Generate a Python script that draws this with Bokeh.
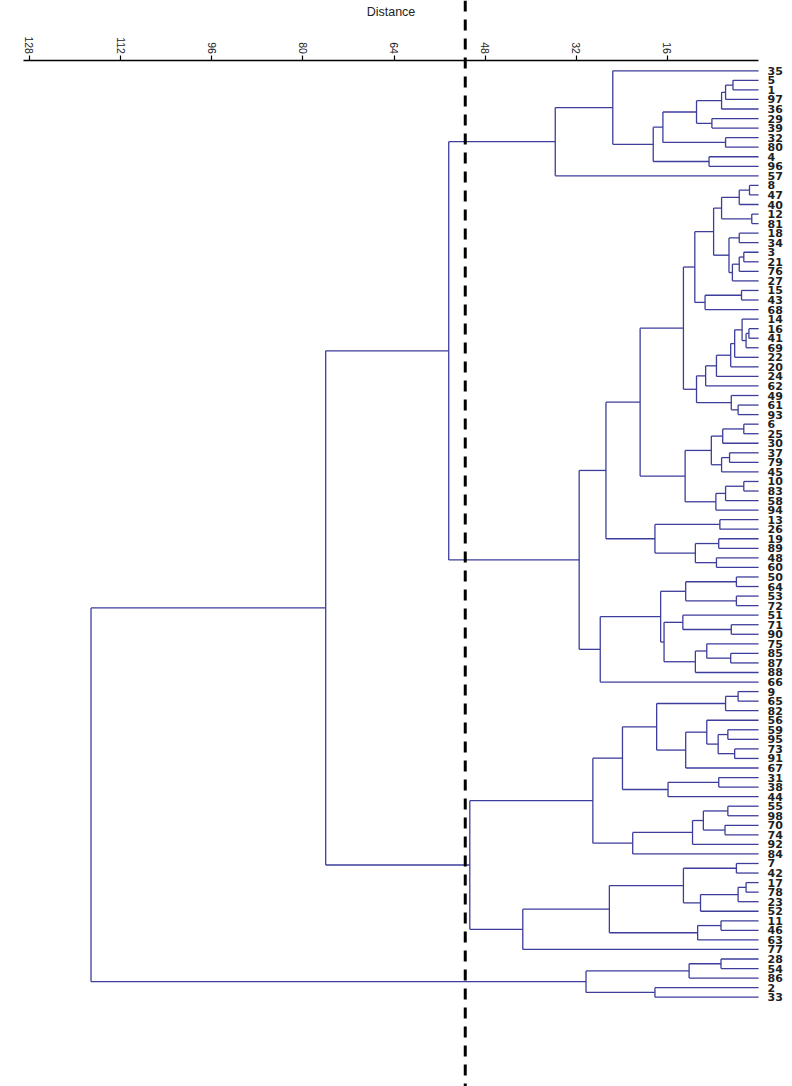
import math
from bokeh.plotting import figure
from bokeh.models import LinearAxis, FixedTicker, Span, Range1d, ColumnDataSource
from bokeh.core.properties import value
from bokeh.embed import file_html
from bokeh.resources import INLINE

# ---------------- data ----------------
leaf_labels = [
    "35", "5", "1", "97", "36", "29", "39", "32", "80", "4", "96", "57",
    "8", "47", "40", "12", "81", "18", "34", "3", "21", "76", "27", "15", "43", "68",
    "14", "16", "41", "69", "22", "20", "24", "62", "49", "61", "93",
    "6", "25", "30", "37", "79", "45", "10", "83", "58", "94",
    "13", "26", "19", "89", "48", "60",
    "50", "64", "53", "72", "51", "71", "90", "75", "85", "87", "88", "66",
    "9", "65", "82", "56", "59", "95", "73", "91", "67", "31", "38", "44",
    "55", "98", "70", "74", "92", "84",
    "7", "42", "17", "78", "23", "52", "11", "46", "63", "77",
    "28", "54", "86", "2", "33",
]

# (cluster name, left child, right child, merge distance)
merges_top = [
    ("a1", "5", "1", 4.5), ("a2", "a1", "97", 5.8), ("a3", "a2", "36", 6.5),
    ("a4", "29", "39", 8.2), ("a5", "a3", "a4", 10.9), ("a6", "32", "80", 5.8),
    ("a7", "a5", "a6", 16.8), ("a8", "4", "96", 8.7), ("a9", "a7", "a8", 18.5),
    ("a10", "35", "a9", 25.6), ("a11", "a10", "57", 35.7),
]
merges_mid = [
    ("b1", "8", "47", 1.6), ("b2", "b1", "40", 3.4), ("b3", "12", "81", 1.2),
    ("b4", "b2", "b3", 6.5), ("b5", "18", "34", 3.4), ("b6", "3", "21", 2.6),
    ("b7", "b6", "76", 3.4), ("b8", "b7", "27", 4.6), ("b9", "b5", "b8", 5.2),
    ("b10", "b4", "b9", 7.9), ("b11", "15", "43", 3.0), ("b12", "b11", "68", 9.4),
    ("b13", "b10", "b12", 11.2), ("b14", "16", "41", 1.7), ("b15", "b14", "69", 2.2),
    ("b16", "14", "b15", 2.9), ("b17", "b16", "22", 4.2), ("b18", "b17", "20", 4.9),
    ("b19", "b18", "24", 7.4), ("b20", "b19", "62", 9.3), ("b21", "61", "93", 3.6),
    ("b22", "49", "b21", 4.8), ("b23", "b20", "b22", 10.9), ("b24", "b13", "b23", 13.2),
    ("b25", "6", "25", 2.6), ("b26", "b25", "30", 6.3), ("b27", "37", "79", 5.1),
    ("b28", "b27", "45", 6.5), ("b29", "b26", "b28", 8.3), ("b30", "10", "83", 2.6),
    ("b31", "b30", "58", 5.8), ("b32", "b31", "94", 7.5), ("b33", "b29", "b32", 12.9),
    ("b34", "b24", "b33", 20.8), ("b35", "13", "26", 6.8), ("b36", "19", "89", 7.0),
    ("b37", "48", "60", 7.4), ("b38", "b36", "b37", 11.1), ("b39", "b35", "b38", 18.2),
    ("b40", "b34", "b39", 26.8), ("b41", "50", "64", 3.9), ("b42", "53", "72", 3.9),
    ("b43", "b41", "b42", 12.8), ("b44", "71", "90", 4.8), ("b45", "51", "b44", 13.3),
    ("b46", "85", "87", 4.9), ("b47", "75", "b46", 9.1), ("b48", "b47", "88", 11.1),
    ("b49", "b45", "b48", 16.6), ("b50", "b43", "b49", 17.2), ("b51", "b50", "66", 27.8),
    ("b52", "b40", "b51", 31.5),
]
merges_low = [
    ("c1", "9", "65", 3.6), ("c2", "c1", "82", 5.8), ("c3", "59", "95", 5.4),
    ("c4", "73", "91", 4.2), ("c5", "c3", "c4", 7.1), ("c6", "56", "c5", 9.1),
    ("c7", "c6", "67", 12.8), ("c8", "c2", "c7", 17.9), ("c9", "31", "38", 7.0),
    ("c10", "c9", "44", 15.9), ("c11", "c8", "c10", 23.9), ("c12", "55", "98", 5.4),
    ("c13", "70", "74", 5.9), ("c14", "c12", "c13", 9.7), ("c15", "c14", "92", 11.6),
    ("c16", "c15", "84", 22.1), ("c17", "c11", "c16", 29.1), ("c18", "7", "42", 3.9),
    ("c19", "17", "78", 2.2), ("c20", "c19", "23", 3.6), ("c21", "c20", "52", 10.2),
    ("c22", "c18", "c21", 13.2), ("c23", "11", "46", 6.6), ("c24", "c23", "63", 10.7),
    ("c25", "c22", "c24", 26.2), ("c26", "c25", "77", 41.4), ("c27", "c17", "c26", 50.7),
]
merges_last = [
    ("d1", "28", "54", 6.6), ("d2", "d1", "86", 12.2), ("d3", "2", "33", 18.2),
    ("d4", "d2", "d3", 30.3),
]
merges_upper = [
    ("AB", "a11", "b52", 54.4), ("ABC", "AB", "c27", 76.0), ("root", "ABC", "d4", 117.2),
]
cut_height = 51.5
tick_values = [16, 32, 48, 64, 80, 96, 112, 128]

# ---------------- build dendrogram segments ----------------
merges = merges_top + merges_mid + merges_low + merges_last + merges_upper
pos = {lab: float(i) for i, lab in enumerate(leaf_labels)}
hgt = {lab: 0.0 for lab in leaf_labels}
x0, y0, x1, y1 = [], [], [], []
for name, a, b, h in merges:
    x0.append(h); y0.append(pos[a]); x1.append(h); y1.append(pos[b])
    for c in (a, b):
        x0.append(h); y0.append(pos[c]); x1.append(hgt[c]); y1.append(pos[c])
    pos[name] = (pos[a] + pos[b]) / 2.0
    hgt[name] = h

seg_src = ColumnDataSource(dict(x0=x0, y0=y0, x1=x1, y1=y1))
lab_src = ColumnDataSource(dict(x=[hgt[l] for l in leaf_labels],
                                y=[pos[l] for l in leaf_labels],
                                text=leaf_labels))

# ---------------- figure ----------------
p = figure(width=792, height=1086,
           x_range=Range1d(133.09, -5.95), y_range=Range1d(106.35, -7.36),
           x_axis_location=None, y_axis_location=None,
           toolbar_location=None, output_backend="svg", min_border=0)
p.outline_line_color = None
p.background_fill_color = "white"
p.border_fill_color = "white"
p.grid.visible = False

p.segment(x0="x0", y0="y0", x1="x1", y1="y1", source=seg_src,
          line_color="#3d3d9c", line_width=1.3)

p.text(x="x", y="y", text="text", source=lab_src, x_offset=9,
       text_baseline="middle", text_align="left",
       text_font=value("DejaVu Sans"), text_font_size="11px",
       text_font_style="bold", text_color="#222222")

axis = LinearAxis(fixed_location=-1.03,
                  ticker=FixedTicker(ticks=tick_values),
                  bounds=(0, 129),
                  axis_label="Distance",
                  axis_label_text_font="Liberation Sans",
                  axis_label_text_font_size="12.5px",
                  axis_label_text_font_style="normal",
                  axis_label_text_color="#222222",
                  axis_label_standoff=14,
                  major_label_orientation=-math.pi / 2,
                  major_label_text_font="Liberation Sans",
                  major_label_text_font_size="10.5px",
                  major_label_text_color="#222222",
                  major_label_standoff=2,
                  major_tick_in=0, major_tick_out=5,
                  minor_tick_in=0, minor_tick_out=0,
                  axis_line_width=1.6, axis_line_color="black",
                  major_tick_line_width=1.2)
p.add_layout(axis, "above")

p.add_layout(Span(location=cut_height, dimension="height",
                  line_color="black", line_width=3, line_dash="11 8"))

open("out.html", "w").write(file_html(p, INLINE))
